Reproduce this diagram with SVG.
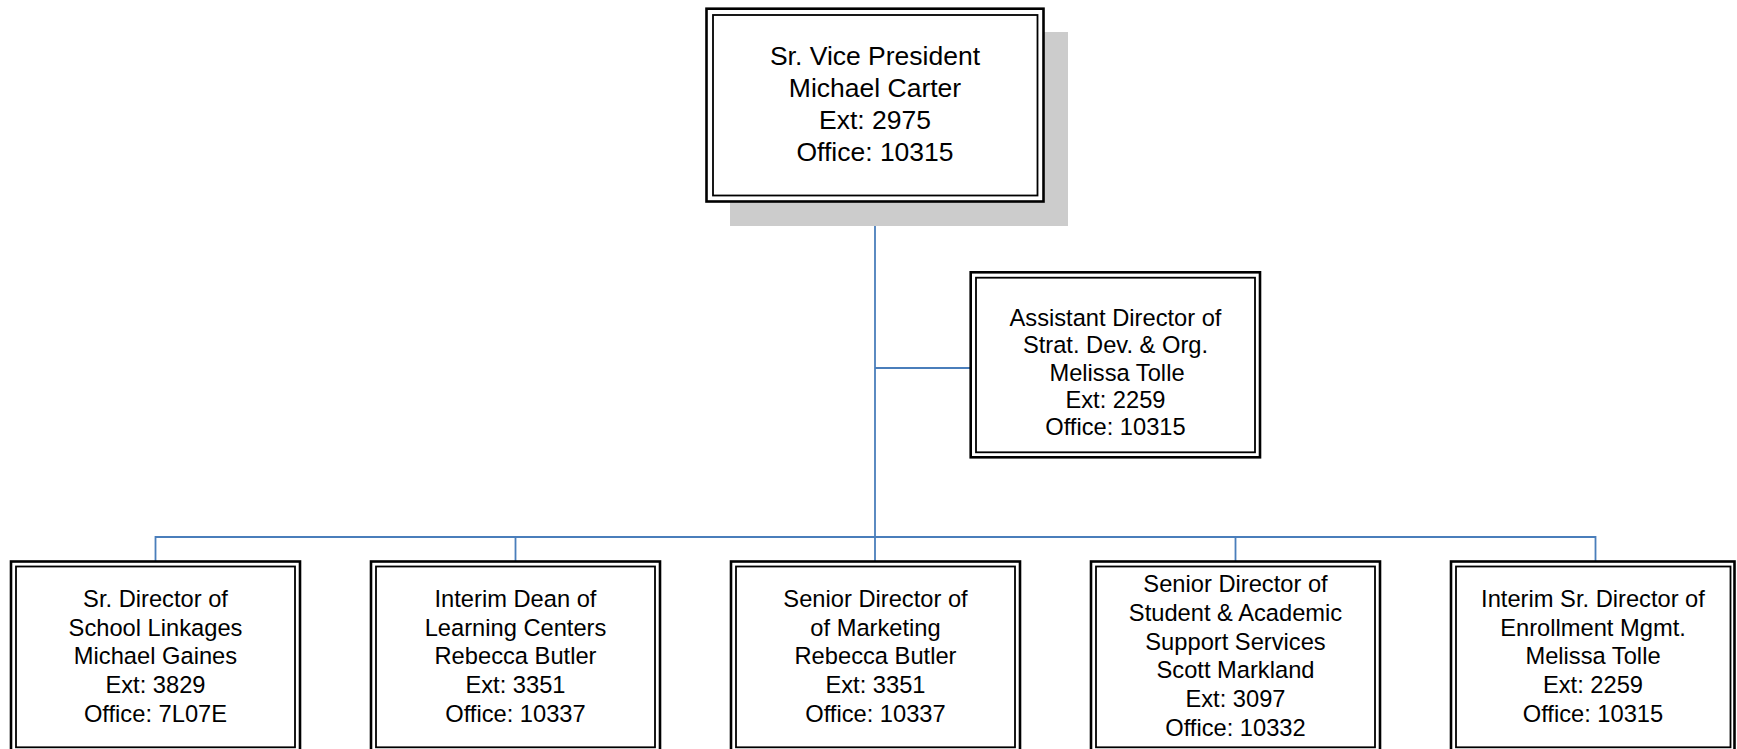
<svg xmlns="http://www.w3.org/2000/svg" width="1737" height="749" viewBox="0 0 1737 749">
<style>
.bg{fill:#ffffff}
.outer{fill:#ffffff;stroke:#000000;stroke-width:2.6}
.inner{fill:none;stroke:#000000;stroke-width:1.8}
.shadow{fill:#cccccc}
.conn{fill:none;stroke:#4a7ebb;stroke-width:1.8}
text{font-family:"Liberation Sans",Arial,sans-serif;fill:#000000;text-anchor:middle}
.big{font-size:26.5px}
.sm{font-size:23.7px}
</style>
<rect class="bg" x="0" y="0" width="1737" height="749"/>
<g id="connectors">
<path class="conn" d="M875 202 V537"/>
<path class="conn" d="M875 368 H971"/>
<path class="conn" d="M155.5 561 V537 H1595.5 V561"/>
<path class="conn" d="M515.5 537 V561"/>
<path class="conn" d="M875 537 V561"/>
<path class="conn" d="M1235.5 537 V561"/>
</g>
<g id="svp">
<rect class="shadow" x="730" y="32" width="338" height="194"/>
<rect class="outer" x="706.5" y="8.7" width="337" height="192.8"/>
<rect class="inner" x="713" y="15" width="324.5" height="180.5"/>
<text class="big"><tspan x="875" y="65">Sr. Vice President</tspan><tspan x="875" y="97">Michael Carter</tspan><tspan x="875" y="129">Ext: 2975</tspan><tspan x="875" y="161">Office: 10315</tspan></text>
</g>
<g id="asst">
<rect class="outer" x="970.7" y="272.3" width="289.3" height="185"/>
<rect class="inner" x="976" y="277.7" width="279" height="174.6"/>
<text class="sm"><tspan x="1115.5" y="326">Assistant Director of</tspan><tspan x="1115.5" y="353.3">Strat. Dev. &amp; Org.</tspan><tspan x="1117" y="380.6">Melissa Tolle</tspan><tspan x="1115.5" y="407.9">Ext: 2259</tspan><tspan x="1115.5" y="435.2">Office: 10315</tspan></text>
</g>
<g id="linkages">
<rect class="outer" x="11" y="561.5" width="289" height="191"/>
<rect class="inner" x="16" y="566.5" width="279" height="180.8"/>
<text class="sm"><tspan x="155.5" y="607">Sr. Director of</tspan><tspan x="155.5" y="635.7">School Linkages</tspan><tspan x="155.5" y="664.4">Michael Gaines</tspan><tspan x="155.5" y="693.1">Ext: 3829</tspan><tspan x="155.5" y="721.8">Office: 7L07E</tspan></text>
</g>
<g id="learning">
<rect class="outer" x="371" y="561.5" width="289" height="191"/>
<rect class="inner" x="376" y="566.5" width="279" height="180.8"/>
<text class="sm"><tspan x="515.5" y="607">Interim Dean of</tspan><tspan x="515.5" y="635.7">Learning Centers</tspan><tspan x="515.5" y="664.4">Rebecca Butler</tspan><tspan x="515.5" y="693.1">Ext: 3351</tspan><tspan x="515.5" y="721.8">Office: 10337</tspan></text>
</g>
<g id="marketing">
<rect class="outer" x="731" y="561.5" width="289" height="191"/>
<rect class="inner" x="736" y="566.5" width="279" height="180.8"/>
<text class="sm"><tspan x="875.5" y="607">Senior Director of</tspan><tspan x="875.5" y="635.7">of Marketing</tspan><tspan x="875.5" y="664.4">Rebecca Butler</tspan><tspan x="875.5" y="693.1">Ext: 3351</tspan><tspan x="875.5" y="721.8">Office: 10337</tspan></text>
</g>
<g id="support">
<rect class="outer" x="1091" y="561.5" width="289" height="191"/>
<rect class="inner" x="1096" y="566.5" width="279" height="180.8"/>
<text class="sm"><tspan x="1235.5" y="591.7">Senior Director of</tspan><tspan x="1235.5" y="620.6">Student &amp; Academic</tspan><tspan x="1235.5" y="649.5">Support Services</tspan><tspan x="1235.5" y="678.4">Scott Markland</tspan><tspan x="1235.5" y="707.3">Ext: 3097</tspan><tspan x="1235.5" y="736.2">Office: 10332</tspan></text>
</g>
<g id="enrollment">
<rect class="outer" x="1451" y="561.5" width="283.5" height="191"/>
<rect class="inner" x="1456" y="566.5" width="274.5" height="180.8"/>
<text class="sm"><tspan x="1593" y="607">Interim Sr. Director of</tspan><tspan x="1593" y="635.7">Enrollment Mgmt.</tspan><tspan x="1593" y="664.4">Melissa Tolle</tspan><tspan x="1593" y="693.1">Ext: 2259</tspan><tspan x="1593" y="721.8">Office: 10315</tspan></text>
</g>
</svg>
